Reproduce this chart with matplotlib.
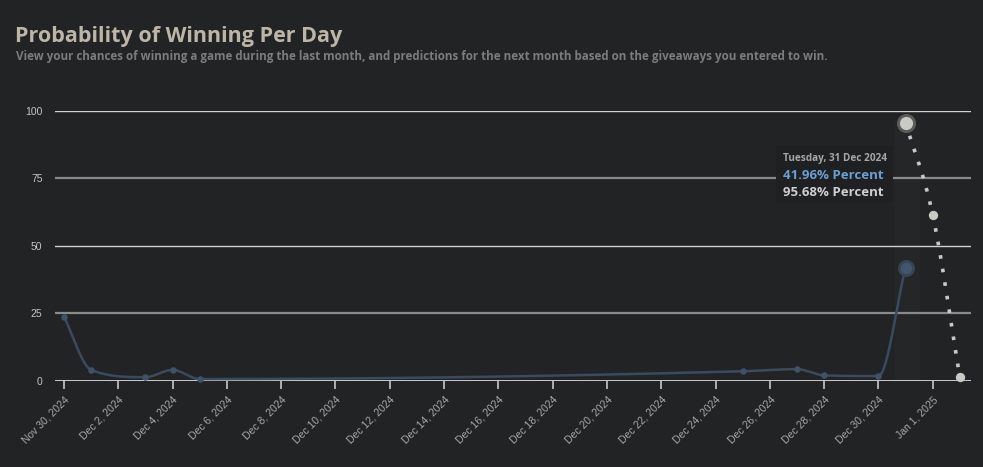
import numpy as np
import matplotlib
matplotlib.use("Agg")
import matplotlib.pyplot as plt
from matplotlib.patches import Rectangle
import datetime as dt

# ---------------- data ----------------
start_date = dt.date(2024, 11, 30)
actual_days = [0, 1, 3, 4, 5, 25, 27, 28, 30, 31]  # days after Nov 30, 2024
actual_vals = [23.7, 4.0, 1.3, 4.0, 0.6, 3.5, 4.3, 2.0, 1.7, 41.96]
pred_days = [31, 32, 33]
pred_vals = [95.68, 61.5, 1.3]
tick_days = list(range(0, 33, 2))
y_ticks = [0, 25, 50, 75, 100]
title = "Probability of Winning Per Day"
subtitle = ("View your chances of winning a game during the last month, and predictions "
            "for the next month based on the giveaways you entered to win.")
tooltip_date = "Tuesday, 31 Dec 2024"
tooltip_lines = ["41.96% Percent", "95.68% Percent"]

BG = "#222325"
W, H = 983, 467
fig = plt.figure(figsize=(W / 100, H / 100), dpi=100, facecolor=BG)

def fx(px):
    return px / W

def fy(py):
    return 1 - py / H

ax_l, ax_r, ax_b, ax_t = 55, 970.7, 380.7, 111
ax = fig.add_axes([fx(ax_l), fy(ax_b), fx(ax_r - ax_l), (ax_b - ax_t) / H])
ax.set_facecolor(BG)
ax.set_xlim(-0.33, 33.4)
ax.set_ylim(0, 100)
for s in ax.spines.values():
    s.set_visible(False)

# gridlines
grid_col = {0: "#d8d8d8", 25: "#8a8a8a", 50: "#d0d0d0", 75: "#8a8a8a", 100: "#d0d0d0"}
grid_lw = {0: 1.3, 25: 1.6, 50: 1.0, 75: 1.6, 100: 1.0}
for v in y_ticks:
    ax.axhline(v, color=grid_col[v], lw=grid_lw[v], zorder=1)

ax.set_yticks(y_ticks)
ax.set_yticklabels([str(v) for v in y_ticks], fontfamily="Liberation Sans",
                   fontsize=7.5, color="#c4c4c4")
ax.tick_params(axis="y", length=0, pad=9)

ax.set_xticks(tick_days)
labels = []
for d in tick_days:
    dd = start_date + dt.timedelta(days=d)
    labels.append(f"{dd.strftime('%b')} {dd.day}, {dd.year}")
ax.set_xticklabels(labels, rotation=45, ha="right", va="top", rotation_mode="anchor",
                   fontfamily="Liberation Sans", fontsize=7.5, color="#a8a8a8")
ax.tick_params(axis="x", length=6, width=1.2, color="#c8c8c8", pad=4, direction="out")

# monotone cubic interpolation (Fritsch-Carlson, like Chart.js 'monotone')
def monotone(xs, ys, per=30):
    xs = np.asarray(xs, float)
    ys = np.asarray(ys, float)
    n = len(xs)
    dx = np.diff(xs)
    delta = np.diff(ys) / dx
    m = np.zeros(n)
    m[0] = delta[0]
    m[-1] = delta[-1]
    for i in range(1, n - 1):
        if delta[i - 1] * delta[i] <= 0:
            m[i] = 0
        else:
            m[i] = (delta[i - 1] + delta[i]) / 2
    for i in range(n - 1):
        if delta[i] == 0:
            m[i] = m[i + 1] = 0
            continue
        a = m[i] / delta[i]
        b = m[i + 1] / delta[i]
        s = a * a + b * b
        if s > 9:
            t = 3 / np.sqrt(s)
            m[i] = t * a * delta[i]
            m[i + 1] = t * b * delta[i]
    outx, outy = [], []
    for i in range(n - 1):
        t = np.linspace(0, 1, per)
        h = dx[i]
        h00 = 2 * t**3 - 3 * t**2 + 1
        h10 = t**3 - 2 * t**2 + t
        h01 = -2 * t**3 + 3 * t**2
        h11 = t**3 - t**2
        yy = h00 * ys[i] + h10 * h * m[i] + h01 * ys[i + 1] + h11 * h * m[i + 1]
        outx.append(xs[i] + t * h)
        outy.append(yy)
    return np.concatenate(outx), np.concatenate(outy)

# hover band
ax.axvspan(30.6, 31.55, ymin=0, ymax=0.95, color="#252628", zorder=0.5, lw=0)

# actual series
bx, by = monotone(actual_days, actual_vals)
ax.plot(bx, by, color="#3a4b5e", lw=1.8, zorder=3, solid_capstyle="round")
ax.scatter(actual_days[:-1], actual_vals[:-1], s=22, color="#3f5266", zorder=4, lw=0,
           clip_on=False)
ax.scatter([actual_days[-1]], [actual_vals[-1]], s=150, color="#364454", zorder=4,
           lw=0, clip_on=False)
ax.scatter([actual_days[-1]], [actual_vals[-1]], s=70, color="#43556a", zorder=4,
           lw=0, clip_on=False)

# predicted series
gx, gy = monotone(pred_days, pred_vals)
ax.plot(gx, gy, color="#c8c8c8", lw=2.6, linestyle=(0, (1, 2.8)),
        dash_capstyle="butt", zorder=5, clip_on=False)
ax.scatter([pred_days[0]], [pred_vals[0]], s=190, color="#5a5a58", zorder=6, lw=0,
           clip_on=False)
ax.scatter([pred_days[0]], [pred_vals[0]], s=90, color="#c9c9c6", zorder=6, lw=0,
           clip_on=False)
ax.scatter(pred_days[1:], pred_vals[1:], s=45, color="#c9c9c6", zorder=6, lw=0,
           clip_on=False)

# tooltip
tb = Rectangle((fx(776), fy(203)), fx(893 - 776), (203 - 146) / H,
               transform=fig.transFigure, facecolor="#1f2022", edgecolor="none",
               zorder=10)
fig.patches.append(tb)
fig.text(fx(783), fy(159), tooltip_date, fontfamily="Open Sans", fontweight="bold",
         fontsize=7.2, color="#a6a6a6", va="center", ha="left", zorder=11)
fig.text(fx(783), fy(175.5), tooltip_lines[0], fontfamily="Open Sans", fontweight="bold",
         fontsize=9.5, color="#6b9fd2", va="center", ha="left", zorder=11)
fig.text(fx(783), fy(192.5), tooltip_lines[1], fontfamily="Open Sans", fontweight="bold",
         fontsize=9.5, color="#cfcfcf", va="center", ha="left", zorder=11)

# titles
fig.text(fx(15), fy(42), title, fontfamily="Open Sans", fontweight="bold",
         fontsize=15.5, color="#bdb6a8", va="baseline", ha="left")
fig.text(fx(16), fy(60), subtitle, fontfamily="Open Sans", fontweight="bold",
         fontsize=8.4, color="#7c7c7c", va="baseline", ha="left")

fig.savefig("out.png", dpi=100, facecolor=BG)
